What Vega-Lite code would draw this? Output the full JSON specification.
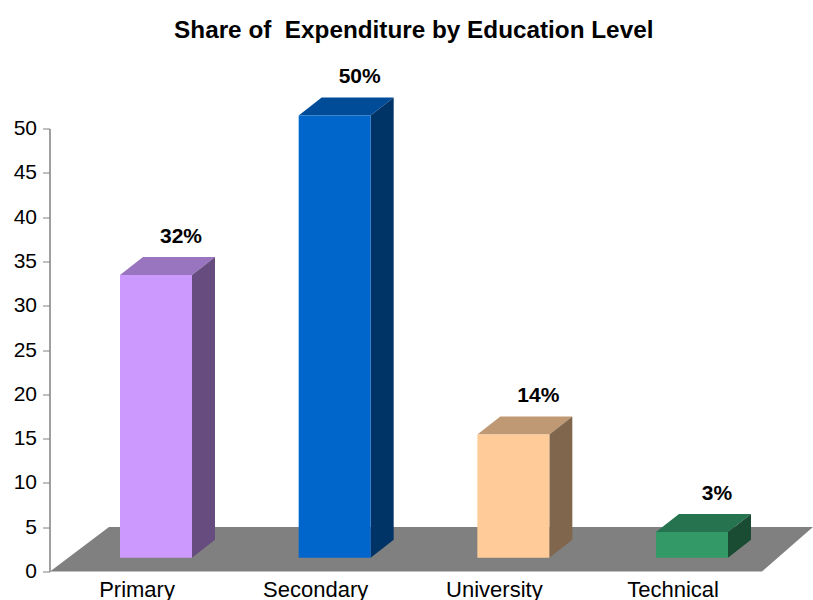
{
"$schema":"https://vega.github.io/schema/vega-lite/v6.json",
"autosize":"none",
"padding":{"left":49.5,"top":128.5,"right":0,"bottom":28.5},
"width":763.5,
"height":443,
"background":"white",
"config":{"font":"Liberation Sans","view":{"stroke":null},
"axisY":{"tickCount":11,"grid":false,"domainColor":"#808080","tickColor":"#808080","tickSize":7,"tickWidth":1,"domainWidth":1.5,"labelFontSize":21,"labelColor":"black","labelPadding":6,"labelFont":"Liberation Sans"}},
"title":{"text":"Share of\u00a0 Expenditure by Education Level","font":"Liberation Sans","fontSize":24.3,"fontWeight":"bold","color":"black","anchor":"middle","dx":-17.5,"offset":23},
"data":{"values":[
{"category":"Primary","slot":0,"value":32,"label":"32%"},
{"category":"Secondary","slot":1,"value":50,"label":"50%"},
{"category":"University","slot":2,"value":14,"label":"14%"},
{"category":"Technical","slot":3,"value":3,"label":"3%"}
]},
"transform":[
{"calculate":"[0,1]","as":"t"},
{"flatten":["t"]},
{"calculate":"datum.slot+0.3946","as":"xl"},
{"calculate":"datum.xl+0.403","as":"xr"},
{"calculate":"1.56","as":"base"},
{"calculate":"datum.base+datum.value-0.1","as":"top"},
{"calculate":"datum.xr+datum.t*0.1287","as":"sideX"},
{"calculate":"datum.base+datum.t*2.03","as":"sideLow"},
{"calculate":"datum.top+datum.t*2.03","as":"sideHigh"},
{"calculate":"datum.xl+datum.t*0.1287","as":"topX"},
{"calculate":"datum.slot+0.49","as":"catX"},
{"calculate":"-2.1","as":"catY"},
{"calculate":"datum.xl+0.2015+0.14","as":"lblX"},
{"calculate":"datum.top+2.03+2.3","as":"lblY"}
],
"resolve":{"scale":{"color":"independent"}},
"layer":[
{
"data":{"values":[{"surface":"floor","t":0},{"surface":"floor","t":1}]},
"transform":[
{"calculate":"0.003+datum.t*0.33","as":"fl"},
{"calculate":"3.988+datum.t*0.285","as":"fr"},
{"calculate":"datum.t*5.02","as":"fy"}
],
"mark":{"type":"area","orient":"horizontal","color":"#808080"},
"encoding":{
"y":{"field":"fy","type":"quantitative","scale":{"domain":[0,50]},"title":null},
"x":{"field":"fl","type":"quantitative","scale":{"domain":[0,4.2733]},"axis":null},
"x2":{"field":"fr"}
}
},
{
"mark":{"type":"area","orient":"horizontal"},
"encoding":{
"y":{"field":"sideHigh","type":"quantitative","scale":{"domain":[0,50]},"title":null},
"x":{"field":"topX","type":"quantitative","scale":{"domain":[0,4.2733]},"axis":null},
"x2":{"field":"sideX"},
"color":{"field":"category","type":"nominal","legend":null,"scale":{"domain":["Primary","Secondary","University","Technical"],"range":["#9975BF","#004C99","#BF9973","#267350"]}}
}
},
{
"transform":[{"calculate":"datum.xr+datum.t*0.1287","as":"tx"}],
"mark":{"type":"area","orient":"vertical"},
"encoding":{
"x":{"field":"tx","type":"quantitative","scale":{"domain":[0,4.2733]},"axis":null},
"y":{"field":"sideLow","type":"quantitative","scale":{"domain":[0,50]},"title":null},
"y2":{"field":"sideHigh"},
"color":{"field":"category","type":"nominal","legend":null,"scale":{"domain":["Primary","Secondary","University","Technical"],"range":["#664C7F","#003366","#7F664C","#1A4C33"]}}
}
},
{
"transform":[{"filter":"datum.t==0"}],
"mark":{"type":"rect"},
"encoding":{
"x":{"field":"xl","type":"quantitative","scale":{"domain":[0,4.2733]},"axis":null},
"x2":{"field":"xr"},
"y":{"field":"base","type":"quantitative","scale":{"domain":[0,50]},"title":null},
"y2":{"field":"top"},
"color":{"field":"category","type":"nominal","legend":null,"scale":{"domain":["Primary","Secondary","University","Technical"],"range":["#CC99FF","#0066CC","#FFCC99","#339966"]}}
}
},
{
"transform":[{"filter":"datum.t==0"}],
"mark":{"type":"text","fontSize":21,"fontWeight":"bold","color":"black","baseline":"middle","align":"center"},
"encoding":{
"x":{"field":"lblX","type":"quantitative","scale":{"domain":[0,4.2733]},"axis":null},
"y":{"field":"lblY","type":"quantitative","scale":{"domain":[0,50]},"title":null},
"text":{"field":"label"}
}
},
{
"transform":[{"filter":"datum.t==0"}],
"mark":{"type":"text","fontSize":22,"color":"black","baseline":"middle","align":"center"},
"encoding":{
"x":{"field":"catX","type":"quantitative","scale":{"domain":[0,4.2733]},"axis":null},
"y":{"field":"catY","type":"quantitative","scale":{"domain":[0,50]},"title":null},
"text":{"field":"category"}
}
}
]
}
